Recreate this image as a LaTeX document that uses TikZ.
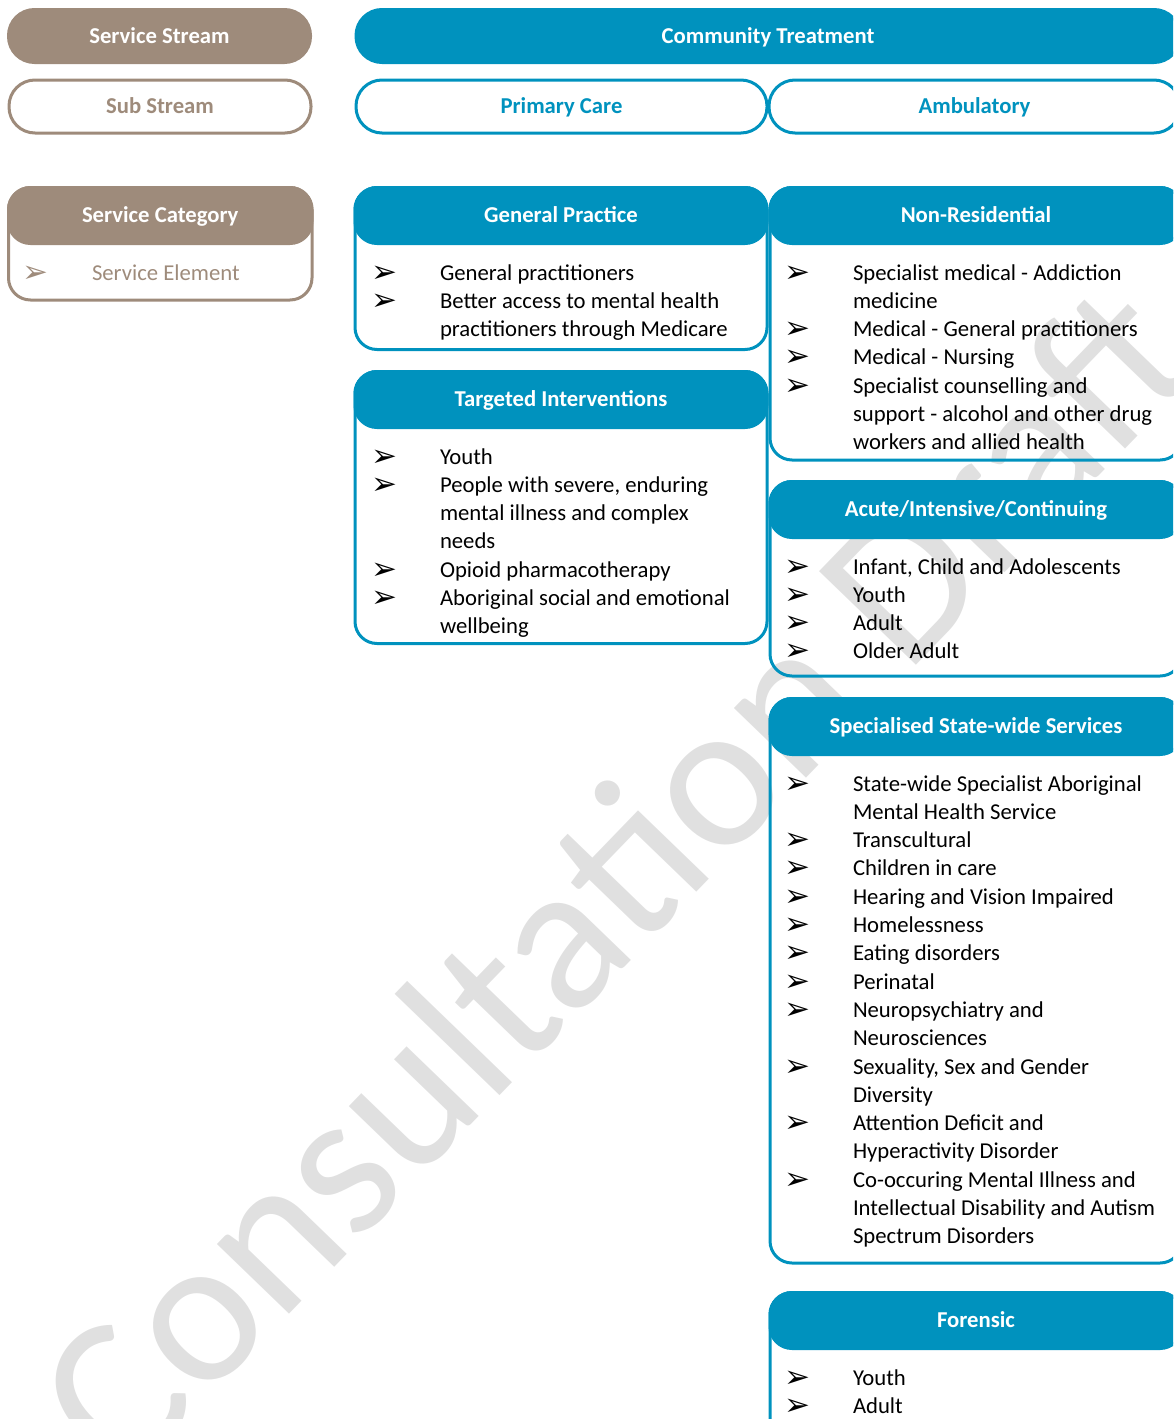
\documentclass[tikz,border=0pt]{standalone}
\usepackage{fontspec}
\setmainfont{Carlito}
\newfontfamily\dvs{DejaVu Sans}
\definecolor{cblue}{RGB}{0,146,190}
\definecolor{ctan}{RGB}{158,139,123}
\definecolor{cwm}{RGB}{224,224,224}
\newcommand\arrglyph{\raisebox{-2pt}{\dvs\fontsize{31}{31}\selectfont\symbol{"27A2}}}
\newcommand\A{\makebox[67pt][l]{\hspace*{-2pt}\arrglyph}}
\newcommand\lst[1]{\begin{tabular}[t]{@{}l@{}l@{}}#1\end{tabular}}
\tikzset{
  every node/.style={inner sep=0pt, outer sep=0pt},
  hfont/.style={font=\bfseries\fontsize{22.7}{27}\selectfont, text height=14.6pt, text depth=0pt},
  pillfill/.style={hfont, rounded corners=26pt, fill=#1, draw=#1, line width=3pt, text=white},
  pillline/.style={hfont, rounded corners=26pt, draw=#1, line width=3pt, text=#1},
  catbody/.style={draw=#1, line width=3pt, rounded corners=22pt},
  cathead/.style={hfont, fill=#1, draw=#1, line width=3pt, rounded corners=22pt, text=white, minimum height=56pt, anchor=north west},
  itemlist/.style={anchor=base west, font=\fontsize{22.7}{28.3}\selectfont},
}
\begin{document}
\begin{tikzpicture}[x=1pt,y=-1pt]
\useasboundingbox (0,0) rectangle (1173,1419);
\clip (0,0) rectangle (1173,1419);
% watermark
\node[text=cwm, font=\fontsize{210}{210}\selectfont, rotate=46] (wm) at (612,876) {Consultation Draft};
% legend
\node[pillfill=ctan, minimum width=302pt, minimum height=53pt] (sstream) at (159.5,36) {Service Stream};
\node[pillline=ctan, minimum width=302pt, minimum height=53pt] (substream) at (160,106.5) {Sub Stream};
\draw[catbody=ctan] (8.5,187.5) rectangle (312,300);
\node[cathead=ctan, minimum width=303.5pt] (scat) at (8.5,187.5) {Service Category};
\node[itemlist, text=ctan] (selem) at (25,280) {\lst{\A & Service Element}};
% top streams
\node[pillfill=cblue, minimum width=824pt, minimum height=53pt] (ct) at (768,36) {Community Treatment};
\node[pillline=cblue, minimum width=411pt, minimum height=53pt] (pc) at (561.5,106.5) {Primary Care};
\node[pillline=cblue, minimum width=411pt, minimum height=53pt] (amb) at (974.5,106.5) {Ambulatory};
% General Practice
\draw[catbody=cblue] (355,187.5) rectangle (767,349.5);
\node[cathead=cblue, minimum width=412pt] (gp) at (355,187.5) {General Practice};
\node[itemlist] (gpl) at (373,280) {\lst{\A & General practitioners\\
\A & Better access to mental health\\
 & practitioners through Medicare}};
% Targeted Interventions
\draw[catbody=cblue] (355,371.5) rectangle (767,643.5);
\node[cathead=cblue, minimum width=412pt] (ti) at (355,371.5) {Targeted Interventions};
\node[itemlist] (til) at (373,464) {\lst{\A & Youth\\
\A & People with severe, enduring\\
 & mental illness and complex\\
 & needs\\
\A & Opioid pharmacotherapy\\
\A & Aboriginal social and emotional\\
 & wellbeing}};
% Non-Residential
\draw[catbody=cblue] (770,187.5) rectangle (1182,460);
\node[cathead=cblue, minimum width=412pt] (nr) at (770,187.5) {Non-Residential};
\node[itemlist] (nrl) at (786,280) {\lst{\A & Specialist medical - Addiction\\
 & medicine\\
\A & Medical - General practitioners\\
\A & Medical - Nursing\\
\A & Specialist counselling and\\
 & support - alcohol and other drug\\
 & workers and allied health}};
% Acute
\draw[catbody=cblue] (770,481.5) rectangle (1182,676);
\node[cathead=cblue, minimum width=412pt] (ai) at (770,481.5) {Acute/Intensive/Continuing};
\node[itemlist] (ail) at (786,574) {\lst{\A & Infant, Child and Adolescents\\
\A & Youth\\
\A & Adult\\
\A & Older Adult}};
% Specialised
\draw[catbody=cblue] (770,698.5) rectangle (1182,1263);
\node[cathead=cblue, minimum width=412pt] (ss) at (770,698.5) {Specialised State-wide Services};
\node[itemlist] (ssl) at (786,791) {\lst{\A & State-wide Specialist Aboriginal\\
 & Mental Health Service\\
\A & Transcultural\\
\A & Children in care\\
\A & Hearing and Vision Impaired\\
\A & Homelessness\\
\A & Eating disorders\\
\A & Perinatal\\
\A & Neuropsychiatry and\\
 & Neurosciences\\
\A & Sexuality, Sex and Gender\\
 & Diversity\\
\A & Attention Deficit and\\
 & Hyperactivity Disorder\\
\A & Co-occuring Mental Illness and\\
 & Intellectual Disability and Autism\\
 & Spectrum Disorders}};
% Forensic
\draw[catbody=cblue] (770,1292.5) rectangle (1182,1450);
\node[cathead=cblue, minimum width=412pt] (fo) at (770,1292.5) {Forensic};
\node[itemlist] (fol) at (786,1385) {\lst{\A & Youth\\
\A & Adult}};
\end{tikzpicture}
\end{document}
